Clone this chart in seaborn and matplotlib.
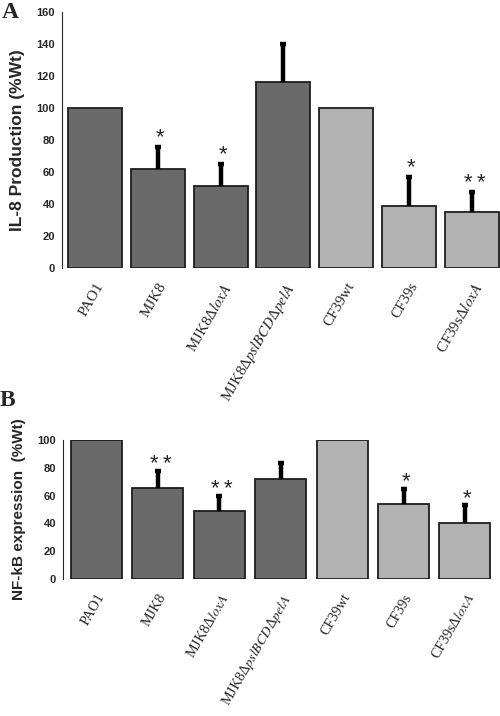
import matplotlib

matplotlib.use("Agg")

import matplotlib.pyplot as plt
import numpy as np
import pandas as pd
import seaborn as sns

# Dados (percentual em relação ao tipo selvagem)
STRAINS = ["PAO1", "MJK8", "MJK8ΔloxA", "MJK8ΔpslBCDΔpelA", "CF39wt", "CF39s", "CF39sΔloxA"]
TICK_LABELS = [
    "PAO1",
    "MJK8",
    r"MJK8Δ$\mathit{loxA}$",
    r"MJK8Δ$\mathit{pslBCD}$Δ$\mathit{pelA}$",
    "CF39wt",
    "CF39s",
    r"CF39sΔ$\mathit{loxA}$",
]
GROUP = ["PAO1", "PAO1", "PAO1", "PAO1", "CF39", "CF39", "CF39"]

IL8_MEAN = [100, 62, 51, 116, 100, 39, 35]
IL8_ERR = [0, 13.5, 14, 24, 0, 18, 12.5]
IL8_STARS = ["", "*", "*", "", "", "*", "**"]

NFKB_MEAN = [100, 65.5, 49, 72, 100, 54, 40]
NFKB_ERR = [0, 12.5, 11, 11.5, 0, 11, 13]
NFKB_STARS = ["", "**", "**", "", "", "*", "*"]

CORES = {"PAO1": "#6a6a6a", "CF39": "#b2b2b2"}


def _painel(ax, medias, erros, estrelas, largura, ylim, ticks, ylabel, star_off,
            fs_label, fs_tick):
    df = pd.DataFrame({"cepa": STRAINS, "valor": medias, "grupo": GROUP})
    sns.barplot(
        data=df, x="cepa", y="valor", hue="grupo", palette=CORES,
        width=largura, dodge=False, edgecolor="#1e1e1e", linewidth=1.3,
        legend=False, ax=ax,
    )
    x = np.arange(len(STRAINS))
    medias = np.asarray(medias, dtype=float)
    erros = np.asarray(erros, dtype=float)
    com_erro = erros > 0
    # só a barra de erro superior, como no original
    _, caps, _ = ax.errorbar(
        x[com_erro], medias[com_erro] + erros[com_erro] / 2, yerr=erros[com_erro] / 2,
        fmt="none", ecolor="black", elinewidth=3.2, capsize=2.2, capthick=3.2,
        zorder=3,
    )
    caps[0].set_visible(False)
    for xi, m, e, s in zip(x, medias, erros, estrelas):
        if not s:
            continue
        n = len(s)
        desloc = (np.arange(n) - (n - 1) / 2) * 0.21
        for d in desloc:
            ax.text(xi + 0.04 + d, m + e + star_off, "*", ha="center", va="center",
                    fontsize=16, family="Liberation Sans")
    ax.set_ylim(*ylim)
    ax.set_yticks(ticks)
    ax.set_yticklabels([str(t) for t in ticks], fontsize=8, fontweight="bold",
                       family="Liberation Sans")
    ax.set_ylabel(ylabel, fontsize=fs_label, fontweight="bold", family="Liberation Sans",
                  labelpad=8)
    ax.set_xlabel("")
    ax.set_xticks(x)
    ax.set_xticklabels(TICK_LABELS, rotation=60, ha="right", rotation_mode="anchor",
                       fontsize=fs_tick, family="Liberation Serif")
    ax.tick_params(axis="x", length=0, pad=9)
    ax.tick_params(axis="y", length=3, width=0.8, pad=2)
    for lado in ["top", "right", "bottom"]:
        ax.spines[lado].set_visible(False)
    ax.spines["left"].set_linewidth(0.8)
    ax.grid(False)


def main():
    sns.set_style("white")
    plt.rcParams["mathtext.fontset"] = "stix"

    fig = plt.figure(figsize=(5.0, 7.16), dpi=100)
    ax_a = fig.add_axes([0.124, 0.6257, 0.876, 0.3575])
    ax_b = fig.add_axes([0.126, 0.1913, 0.874, 0.1941])

    _painel(ax_a, IL8_MEAN, IL8_ERR, IL8_STARS, 0.86, (0, 160),
            list(range(0, 161, 20)), "IL-8 Production (%Wt)", 6, 12.5, 10.8)
    ax_a.set_xlim(-0.525, 6.45)

    _painel(ax_b, NFKB_MEAN, NFKB_ERR, NFKB_STARS, 0.83, (0, 100),
            list(range(0, 101, 20)), "NF-kB expression  (%Wt)", 5, 11, 10.2)
    ax_b.set_xlim(-0.54, 6.57)

    fig.text(0.004, 0.997, "A", fontsize=17, fontweight="bold",
             family="Liberation Serif", va="top")
    fig.text(0.0, 0.441, "B", fontsize=17, fontweight="bold",
             family="Liberation Serif", va="center")

    fig.savefig("out.png", dpi=100)
    plt.close(fig)


if __name__ == "__main__":
    main()
